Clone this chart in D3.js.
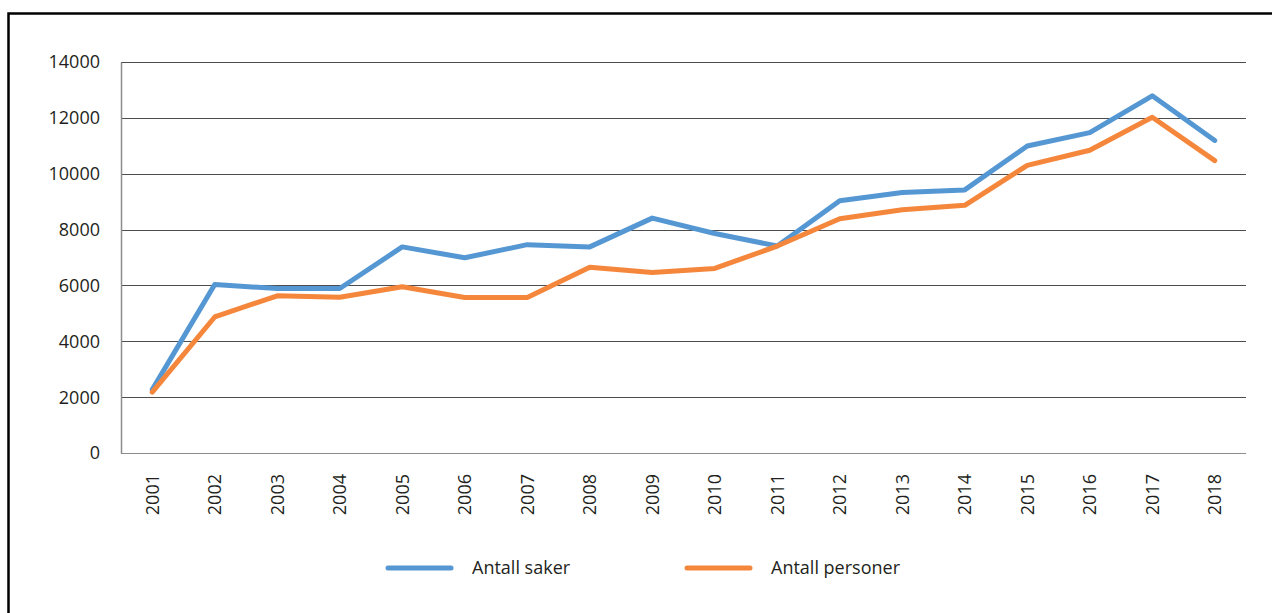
<!DOCTYPE html>
<html>
<head>
<meta charset="utf-8">
<script src="https://cdnjs.cloudflare.com/ajax/libs/d3/7.8.5/d3.min.js"></script>
<style>
  body { margin: 0; background: #fff; }
  svg { display: block; }
  text { font-family: "Open Sans", "Liberation Sans", sans-serif; fill: #231f20; }
</style>
</head>
<body>
<div id="chart"></div>
<script>
// Data
var years = ["2001", "2002", "2003", "2004", "2005", "2006", "2007", "2008", "2009",
             "2010", "2011", "2012", "2013", "2014", "2015", "2016", "2017", "2018"];
var antallSaker = [2270, 6030, 5890, 5890, 7380, 6990, 7460, 7380, 8410,
                   7860, 7410, 9030, 9330, 9420, 10990, 11470, 12790, 11190];
var antallPersoner = [2180, 4870, 5630, 5580, 5950, 5570, 5570, 6650, 6460,
                      6610, 7410, 8390, 8710, 8870, 10300, 10840, 12020, 10470];
var yTicks = [0, 2000, 4000, 6000, 8000, 10000, 12000, 14000];

var seriesList = [
    {name: "Antall saker", values: antallSaker, color: "#5597d3"},
    {name: "Antall personer", values: antallPersoner, color: "#f5873d"}
];

var width = 1272, height = 613;

var svg = d3.select("#chart")
    .append("svg")
    .attr("width", width)
    .attr("height", height);

// outer frame (only top and left edges fall inside the picture)
svg.append("rect")
    .attr("x", 8.5)
    .attr("y", 13.5)
    .attr("width", 1300)
    .attr("height", 700)
    .attr("fill", "none")
    .attr("stroke", "#000")
    .attr("stroke-width", 2.5);

// Scales
var x = d3.scaleBand()
    .domain(years)
    .range([121, 1246]);

var y = d3.scaleLinear()
    .domain([0, 14000])
    .range([453, 62]);

// gridlines
svg.append("g")
    .selectAll("line")
    .data(yTicks)
    .enter()
    .append("line")
    .attr("x1", 121)
    .attr("x2", 1246)
    .attr("y1", function(d) { return Math.round(y(d)) + 0.5; })
    .attr("y2", function(d) { return Math.round(y(d)) + 0.5; })
    .attr("stroke", function(d) { return d === 0 ? "#8c8c8c" : "#4d4d4d"; })
    .attr("stroke-width", 1);

// left axis line
svg.append("line")
    .attr("x1", 121.5).attr("x2", 121.5)
    .attr("y1", Math.round(y(14000)) + 0.5)
    .attr("y2", Math.round(y(0)) + 0.5)
    .attr("stroke", "#8c8c8c")
    .attr("stroke-width", 1.5);

// Y tick labels
svg.append("g")
    .selectAll("text")
    .data(yTicks)
    .enter()
    .append("text")
    .attr("x", 100)
    .attr("y", function(d) { return y(d); })
    .attr("dy", "0.36em")
    .attr("text-anchor", "end")
    .style("font-size", "18px")
    .text(function(d) { return d; });

// X tick labels (rotated)
svg.append("g")
    .selectAll("text")
    .data(years)
    .enter()
    .append("text")
    .attr("transform", function(d) {
        return "translate(" + (x(d) + x.bandwidth() / 2) + ",474) rotate(-90)";
    })
    .attr("dy", "0.36em")
    .attr("text-anchor", "end")
    .style("font-size", "18px")
    .text(function(d) { return d; });

// Lines
var line = d3.line()
    .x(function(d, i) { return x(years[i]) + x.bandwidth() / 2; })
    .y(function(d) { return y(d); });

svg.append("g")
    .selectAll("path")
    .data(seriesList)
    .enter()
    .append("path")
    .attr("d", function(d) { return line(d.values); })
    .attr("fill", "none")
    .attr("stroke", function(d) { return d.color; })
    .attr("stroke-width", 5)
    .attr("stroke-linejoin", "round")
    .attr("stroke-linecap", "round");

// Legend
var legendX = [388, 687];
var legend = svg.append("g")
    .selectAll("g")
    .data(seriesList)
    .enter()
    .append("g")
    .attr("transform", function(d, i) { return "translate(" + legendX[i] + ",568)"; });

legend.append("line")
    .attr("x1", 0).attr("x2", 63)
    .attr("stroke", function(d) { return d.color; })
    .attr("stroke-width", 5)
    .attr("stroke-linecap", "round");

legend.append("text")
    .attr("x", 84)
    .attr("dy", "0.36em")
    .style("font-size", "18px")
    .text(function(d) { return d.name; });
</script>
</body>
</html>
